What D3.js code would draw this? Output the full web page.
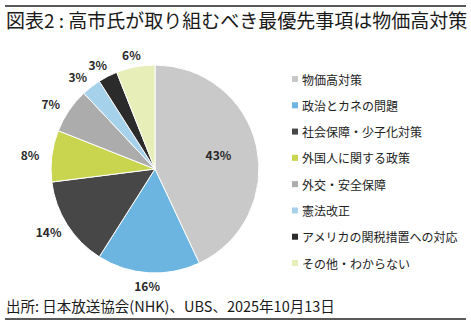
<!DOCTYPE html>
<html><head><meta charset="utf-8">
<script src="https://cdn.jsdelivr.net/npm/d3@7"></script>
<style>
html,body{margin:0;padding:0;background:#fff;}
svg{display:block;}
text{font-family:"Noto Sans CJK JP","Noto Sans",sans-serif;}
</style></head>
<body>
<svg id="c" width="471" height="325"></svg>
<script>
const title = "図表2 : 高市氏が取り組むべき最優先事項は物価高対策";
const source = "出所: 日本放送協会(NHK)、UBS、2025年10月13日";
const categories = ["物価高対策","政治とカネの問題","社会保障・少子化対策","外国人に関する政策","外交・安全保障","憲法改正","アメリカの関税措置への対応","その他・わからない"];
const values = [43,16,14,8,7,3,3,6];
const colors = ["#c9c9c9","#6cb5e1","#474747","#c9d54f","#acacac","#a5d1eb","#2b2b2b","#e8eeb8"];

const svg = d3.select("#c");
// rules
svg.append("line").attr("x1",5).attr("x2",466).attr("y1",6).attr("y2",6).attr("stroke","#222").attr("stroke-width",1.5);
svg.append("line").attr("x1",5).attr("x2",466).attr("y1",319).attr("y2",319).attr("stroke","#222").attr("stroke-width",1.5);
svg.append("text").attr("x",6).attr("y",28).attr("font-size",19).attr("fill","#1a1a1a").text(title);
svg.append("text").attr("x",6).attr("y",312).attr("font-size",14.5).attr("fill","#1a1a1a").text(source);

const cx=155, cy=169, R=104, LRx=126, LRy=117;
const pie = d3.pie().sort(null).value(d=>d.v);
const data = pie(values.map((v,i)=>({v,c:categories[i],col:colors[i]})));
const arc = d3.arc().innerRadius(0).outerRadius(R);
const g = svg.append("g").attr("transform",`translate(${cx},${cy})`);
g.selectAll("path").data(data).join("path")
  .attr("d",arc).attr("fill",d=>d.data.col).attr("stroke","#fff").attr("stroke-width",1);
g.selectAll("text.lab").data(data).join("text").attr("class","lab")
  .attr("transform",(d,i)=>{
    let p;
    if (i===0) p = arc.centroid(d).map(x=>x*1.25);
    else { const a=(d.startAngle+d.endAngle)/2; p=[LRx*Math.sin(a), -LRy*Math.cos(a)]; }
    return `translate(${p[0]},${p[1]})`;
  })
  .attr("text-anchor","middle").attr("dominant-baseline","central")
  .attr("font-family","'Open Sans','Noto Sans',sans-serif")
  .attr("font-size",12).attr("font-weight",600).attr("fill","#2a2a2a")
  .text(d=>d.data.v+"%");

// legend
const ly = d3.scalePoint().domain(categories).range([79,263]);
const lg = svg.append("g");
const items = lg.selectAll("g").data(categories).join("g").attr("transform",d=>`translate(292,${ly(d)})`);
items.append("rect").attr("x",0).attr("y",-3).attr("width",6).attr("height",6).attr("fill",(d,i)=>colors[i]);
items.append("text").attr("x",10).attr("y",0).attr("dominant-baseline","central").attr("font-size",12).attr("fill","#222").text(d=>d);
</script>
</body></html>
